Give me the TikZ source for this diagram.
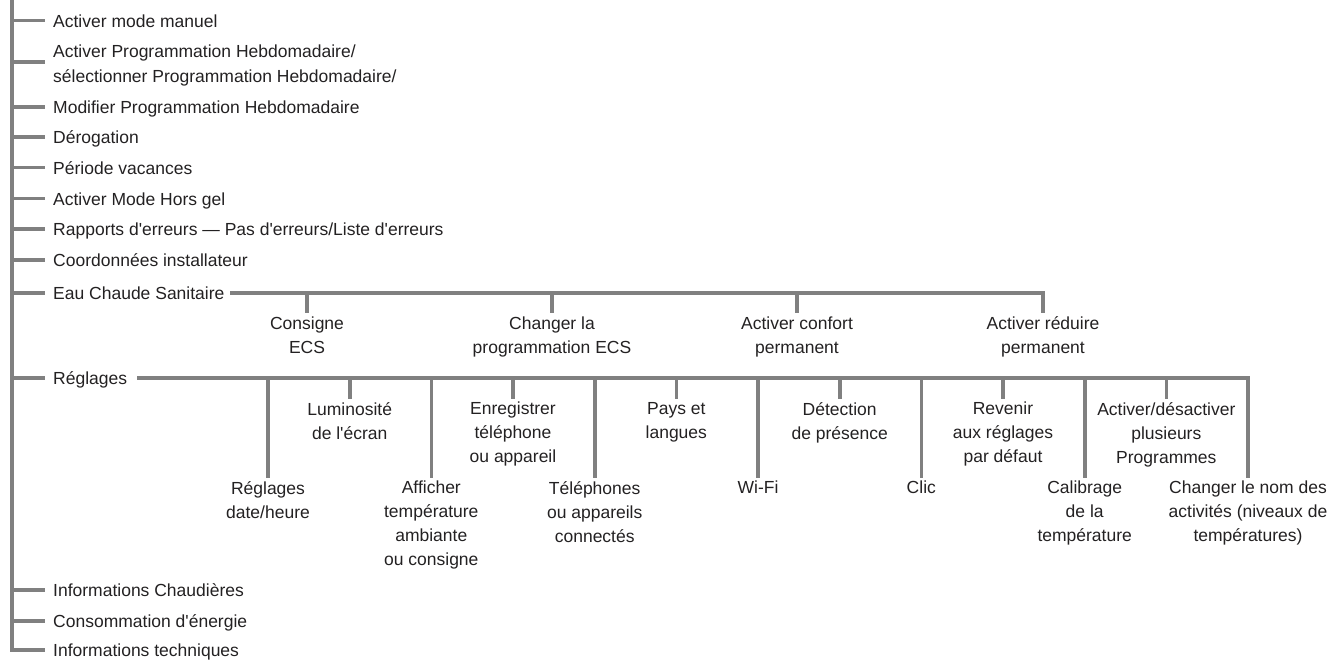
\documentclass[tikz,border=0pt]{standalone}
\usepackage{fontspec}
\setmainfont{Liberation Sans}
\definecolor{lgray}{RGB}{128,128,128}
\definecolor{txt}{RGB}{35,33,34}
\newcommand{\ap}{\textquotesingle}
\begin{document}
\begin{tikzpicture}[x=1pt,y=-1pt,
  lbl/.style={inner sep=0pt, font=\fontsize{17.5}{24}\selectfont, text=txt},
  item/.style={lbl, anchor=base west},
  sub/.style={lbl, anchor=north, align=center},
  ln/.style={draw=lgray, line width=3.6pt},
  drop/.style={ln, shorten >=3.5pt}]
\useasboundingbox (0,0) rectangle (1338,661);

% ---- left list ----
\node[item] (n1) at (53,27.5) {Activer mode manuel};
\node[lbl, anchor=north west, align=left, font=\fontsize{17.5}{25}\selectfont] (n2) at (53,44.5)
  {Activer Programmation Hebdomadaire/\\sélectionner Programmation Hebdomadaire/};
\node[item] (n3) at (53,113) {Modifier Programmation Hebdomadaire};
\node[item] (n4) at (53,143.5) {Dérogation};
\node[item] (n5) at (53,174) {Période vacances};
\node[item] (n6) at (53,205) {Activer Mode Hors gel};
\node[item] (n7) at (53,235.5) {Rapports d\ap erreurs — Pas d\ap erreurs/Liste d\ap erreurs};
\node[item] (n8) at (53,266.5) {Coordonnées installateur};
\node[item] (n9) at (53,299.5) {Eau Chaude Sanitaire};
\node[item] (n10) at (53,384.5) {Réglages};
\node[item] (n11) at (53,596.5) {Informations Chaudières};
\node[item] (n12) at (53,627.5) {Consommation d\ap énergie};
\node[item] (n13) at (53,656.5) {Informations techniques};

% tick coordinates on the trunk
\coordinate (top) at (12,0);
\coordinate (k1) at (12,20.7);
\coordinate (k2) at (12,62);
\coordinate (k3) at (12,107);
\coordinate (k4) at (12,137);
\coordinate (k5) at (12,167.5);
\coordinate (k6) at (12,198.5);
\coordinate (k7) at (12,229);
\coordinate (k8) at (12,260);
\coordinate (k9) at (12,293);
\coordinate (k10) at (12,378);
\coordinate (k11) at (12,590);
\coordinate (k12) at (12,621);
\coordinate (k13) at (12,650);

\draw[ln] (top) -- (k13) -- ([xshift=-8pt]n13.west |- k13);
\foreach \i in {1,...,12}{
  \draw[ln] (k\i) -- ([xshift=-8pt]n\i.west |- k\i);
}

% ---- Eau Chaude Sanitaire ----
\coordinate (eL) at (230,293);
\node[sub] (c1) at (307,316.5) {Consigne\\ECS};
\node[sub] (c2) at (552,316.5) {Changer la\\programmation ECS};
\node[sub] (c3) at (797,316.5) {Activer confort\\permanent};
\node[sub] (c4) at (1043,316.5) {Activer réduire\\permanent};
\draw[drop] (eL) -- (c4.north |- eL) -- (c4.north);
\foreach \c in {c1,c2,c3}{ \draw[drop] (\c.north |- eL) -- (\c.north); }

% ---- Réglages ----
\coordinate (rL) at (137,378);
\node[sub] (r1)  at (268,481)    {Réglages\\date/heure};
\node[sub] (r2)  at (349.7,402)  {Luminosité\\de l\ap écran};
\node[sub] (r3)  at (431.3,481)  {Afficher\\température\\ambiante\\ou consigne};
\node[sub] (r4)  at (513,402)    {Enregistrer\\téléphone\\ou appareil};
\node[sub] (r5)  at (594.7,481)  {Téléphones\\ou appareils\\connectés};
\node[sub] (r6)  at (676.3,402)  {Pays et\\langues};
\node[sub] (r7)  at (758,481)    {Wi-Fi};
\node[sub] (r8)  at (839.7,402)  {Détection\\de présence};
\node[sub] (r9)  at (921.3,481)  {Clic};
\node[sub] (r10) at (1003,402)   {Revenir\\aux réglages\\par défaut};
\node[sub] (r11) at (1084.7,481) {Calibrage\\de la\\température};
\node[sub] (r12) at (1166.3,402) {Activer/désactiver\\plusieurs\\Programmes};
\node[sub] (r13) at (1248,481)   {Changer le nom des\\activités (niveaux de\\températures)};
\draw[drop] (rL) -- (r13.north |- rL) -- (r13.north);
\foreach \i in {1,...,12}{ \draw[drop] (r\i.north |- rL) -- (r\i.north); }
\end{tikzpicture}
\end{document}
